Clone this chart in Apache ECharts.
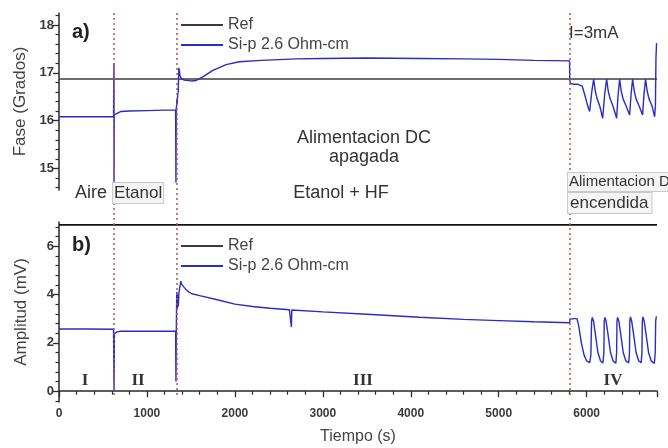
<!DOCTYPE html>
<html>
<head>
<meta charset="utf-8">
<script src="https://cdn.jsdelivr.net/npm/echarts@6/dist/echarts.min.js"></script>
<style>
  html, body { margin: 0; padding: 0; background: #fff; }
  #chart { width: 668px; height: 448px; }
</style>
</head>
<body>
<div id="chart"></div>
<script>
// Phase (degrees) of the reference and of the Si-p sample vs. time (s)
const phaseRef = [[0, 16.87], [6800, 16.87]];
const phaseSi = [
  [0, 16.08], [300, 16.08], [620, 16.08], [624, 16.1], [625, 17.2], [626, 14.7], [628, 16.12],
  [650, 16.15], [700, 16.19], [800, 16.2], [1000, 16.21], [1200, 16.22], [1326, 16.22],
  [1330, 14.7], [1333, 16.25], [1337, 16.3], [1341, 16.45], [1345, 16.35], [1350, 16.55],
  [1356, 16.6], [1362, 17.1], [1368, 17.05], [1375, 16.95], [1390, 16.88], [1420, 16.85],
  [1500, 16.83], [1560, 16.84], [1640, 16.92], [1750, 17.05], [1900, 17.17], [2050, 17.23],
  [2300, 17.26], [2700, 17.29], [3000, 17.3], [3500, 17.31], [4100, 17.3], [4600, 17.29],
  [5000, 17.28], [5400, 17.26], [5805, 17.25], [5808, 16.85], [5815, 16.78], [5850, 16.76],
  [5900, 16.76], [5950, 16.72], [5985, 16.5], [6010, 16.32], [6034, 16.19], [6058, 16.6],
  [6080, 16.87], [6098, 16.62], [6120, 16.45], [6150, 16.3], [6182, 16.05], [6205, 16.55],
  [6227, 16.87], [6245, 16.62], [6268, 16.45], [6300, 16.3], [6341, 16.05], [6356, 16.5],
  [6375, 16.87], [6393, 16.62], [6415, 16.45], [6450, 16.3], [6489, 16.12], [6505, 16.55],
  [6523, 16.87], [6541, 16.62], [6563, 16.45], [6598, 16.3], [6636, 16.12], [6652, 16.55],
  [6670, 16.87], [6688, 16.62], [6710, 16.45], [6745, 16.3], [6773, 16.08], [6782, 16.3],
  [6788, 17.3], [6795, 17.62]
];

// Amplitude (mV) of the reference and of the Si-p sample vs. time (s)
const ampRef = [[0, 6.88], [6800, 6.88]];
const ampSi = [
  [0, 2.57], [300, 2.57], [620, 2.56], [624, 2.5], [626, 0.05], [630, 2.38], [660, 2.45],
  [700, 2.48], [1000, 2.48], [1326, 2.48], [1330, 0.4], [1334, 2.6], [1339, 4.1], [1345, 3.4],
  [1351, 4.0], [1357, 3.5], [1364, 4.1], [1372, 4.25], [1385, 4.55], [1395, 4.42], [1415, 4.35],
  [1440, 4.22], [1470, 4.12], [1510, 4.03], [1600, 3.95], [1800, 3.78], [2000, 3.6],
  [2200, 3.5], [2400, 3.43], [2620, 3.37], [2640, 3.36], [2643, 2.65], [2647, 3.36],
  [3000, 3.28], [3500, 3.18], [4100, 3.06], [4600, 2.97], [5000, 2.92], [5400, 2.87],
  [5805, 2.83], [5812, 2.97], [5850, 3.0], [5890, 3.0], [5910, 2.7], [5940, 2.0], [5970, 1.5],
  [6000, 1.25], [6035, 1.18], [6048, 1.5], [6056, 2.9], [6064, 3.05], [6078, 2.9], [6098, 2.4],
  [6128, 1.6], [6158, 1.25], [6185, 1.17], [6196, 1.6], [6200, 2.9], [6207, 3.05], [6221, 2.9],
  [6241, 2.4], [6271, 1.6], [6301, 1.25], [6332, 1.15], [6341, 1.6], [6345, 2.9], [6352, 3.05],
  [6366, 2.9], [6386, 2.4], [6416, 1.6], [6446, 1.25], [6478, 1.17], [6487, 1.6], [6491, 2.9],
  [6498, 3.07], [6512, 2.9], [6532, 2.4], [6562, 1.6], [6592, 1.25], [6620, 1.18], [6629, 1.6],
  [6633, 2.9], [6640, 3.07], [6654, 2.9], [6674, 2.4], [6704, 1.6], [6734, 1.25], [6770, 1.15],
  [6780, 1.6], [6785, 2.9], [6793, 3.1]
];

// Times (s) where the medium / power condition changes
const eventTimes = [628, 1337, 5807];

// Axis ticks
const timeLabels = [0, 1000, 2000, 3000, 4000, 5000, 6000];
const phaseMajor = [15, 16, 17, 18];
const phaseMinor = [14.6, 14.8, 15.2, 15.4, 15.6, 15.8, 16.2, 16.4, 16.6, 16.8,
                    17.2, 17.4, 17.6, 17.8, 18.2];
const ampMajor = [0, 2, 4, 6];
const ampMinor = [-0.4, 0.4, 0.8, 1.2, 1.6, 2.4, 2.8, 3.2, 3.6, 4.4, 4.8, 5.2, 5.6, 6.4, 6.8];

const seriesNames = ['Ref', 'Si-p 2.6 Ohm-cm'];
const FONT = '"Liberation Sans", Arial, sans-serif';
const SERIF = '"Liberation Serif", "Times New Roman", serif';
const BLUE = '#2b2bc6';
const AXIS = '#2a2a2a';

const chart = echarts.init(document.getElementById('chart'), null, { renderer: 'canvas' });

function majorY(grid, min, max, ticks, name) {
  return {
    type: 'value', gridIndex: grid, min: min, max: max, position: 'left',
    axisLine: { show: true, lineStyle: { color: AXIS, width: 1.5 } },
    axisTick: { show: true, inside: false, length: 6, customValues: ticks, lineStyle: { color: AXIS, width: 1.3 } },
    axisLabel: { show: true, customValues: ticks, margin: 5, fontSize: 13, fontWeight: 'bold', color: '#3a3a3a', fontFamily: FONT },
    splitLine: { show: false },
    name: name, nameLocation: 'middle', nameGap: 29,
    nameTextStyle: { fontSize: 17, color: '#444', fontFamily: FONT }
  };
}
function minorY(grid, min, max, ticks) {
  return {
    type: 'value', gridIndex: grid, min: min, max: max, position: 'left',
    axisLine: { show: false },
    axisTick: { show: true, inside: false, length: 3.5, customValues: ticks, lineStyle: { color: AXIS, width: 1.2 } },
    axisLabel: { show: false },
    splitLine: { show: false }
  };
}
function lineSeries(name, xi, yi, data, color, width) {
  return {
    name: name, type: 'line', xAxisIndex: xi, yAxisIndex: yi, data: data,
    symbol: 'none', showSymbol: false, smooth: false,
    lineStyle: { color: color, width: width }, itemStyle: { color: color },
    silent: true, z: 3
  };
}
function textEl(x, y, text, opt) {
  return {
    type: 'text', x: x, y: y, z: 100, silent: true,
    style: Object.assign({
      text: text, fill: '#333', fontSize: 18, fontFamily: FONT,
      align: 'left', verticalAlign: 'middle'
    }, opt || {})
  };
}
const boxStyle = { backgroundColor: '#f4f4f4', borderColor: '#c9c9c9', borderWidth: 1, padding: [2, 1, 1, 1] };
const legendBase = {
  data: seriesNames, orient: 'vertical', left: 176, itemWidth: 42, itemHeight: 2, itemGap: 4,
  icon: 'rect', selectedMode: false,
  textStyle: { fontSize: 16, color: '#444', fontFamily: FONT, padding: [0, 0, 0, 0] }
};

chart.setOption({
  animation: false,
  backgroundColor: '#fff',
  grid: [
    { left: 59, right: 11, top: 13, height: 177 },
    { left: 59, right: 11, top: 222, height: 180 },
    { left: 59, right: 11, top: 10, height: 385 }
  ],
  legend: [
    Object.assign({ top: 12 }, legendBase),
    Object.assign({ top: 233 }, legendBase)
  ],
  xAxis: [
    { type: 'value', gridIndex: 0, min: 0, max: 6800, show: false },
    {
      type: 'value', gridIndex: 1, min: 0, max: 6800, interval: 1000,
      axisLine: { show: true, lineStyle: { color: AXIS, width: 1.5 } },
      axisTick: { show: true, inside: false, length: 6, lineStyle: { color: AXIS, width: 1.3 } },
      minorTick: { show: true, splitNumber: 5, length: 3.5, lineStyle: { color: AXIS, width: 1.2 } },
      axisLabel: { customValues: timeLabels, formatter: v => String(v), margin: 6, fontSize: 12,
                   fontWeight: 'bold', color: '#3a3a3a', fontFamily: FONT },
      splitLine: { show: false },
      name: 'Tiempo (s)', nameLocation: 'middle', nameGap: 27,
      nameTextStyle: { fontSize: 16, color: '#444', fontFamily: FONT }
    },
    { type: 'value', gridIndex: 2, min: 0, max: 6800, show: false }
  ],
  yAxis: [
    majorY(0, 14.55, 18.25, phaseMajor, 'Fase (Grados)'),
    minorY(0, 14.55, 18.25, phaseMinor),
    majorY(1, -0.45, 7, ampMajor, 'Amplitud (mV)'),
    minorY(1, -0.45, 7, ampMinor),
    { type: 'value', gridIndex: 2, min: 0, max: 1, show: false }
  ],
  series: [
    {
      name: 'events', type: 'line', xAxisIndex: 2, yAxisIndex: 4, data: [], silent: true, z: 1,
      markLine: {
        silent: true, symbol: ['none', 'none'], label: { show: false },
        lineStyle: { color: '#a85a55', width: 1.5, type: [2, 3] },
        data: eventTimes.map(t => ({ xAxis: t }))
      }
    },
    lineSeries('Ref', 0, 0, phaseRef, '#3c3c3c', 1.6),
    lineSeries('Si-p 2.6 Ohm-cm', 0, 0, phaseSi, BLUE, 1.4),
    lineSeries('Ref', 1, 2, ampRef, '#111', 1.6),
    lineSeries('Si-p 2.6 Ohm-cm', 1, 2, ampSi, BLUE, 1.4)
  ],
  graphic: [
    textEl(72, 32, 'a)', { fontSize: 20, fontWeight: 'bold', fill: '#222' }),
    textEl(72, 245, 'b)', { fontSize: 20, fontWeight: 'bold', fill: '#222' }),
    textEl(75, 193, 'Aire'),
    textEl(113, 193, 'Etanol', Object.assign({}, boxStyle, { fontSize: 17 })),
    textEl(341, 193, 'Etanol + HF', { align: 'center' }),
    textEl(364, 138, 'Alimentacion DC', { align: 'center' }),
    textEl(364, 157, 'apagada', { align: 'center' }),
    textEl(569, 33, 'I=3mA', { fontSize: 17 }),
    textEl(568, 182, 'Alimentacion DC', Object.assign({}, boxStyle, { fontSize: 15 })),
    textEl(568, 203, 'encendida', Object.assign({}, boxStyle, { fontSize: 17, padding: [2, 3, 1, 2] })),
    textEl(85, 381, 'I', { fontFamily: SERIF, fontWeight: 'bold', fontSize: 17, align: 'center' }),
    textEl(138, 381, 'II', { fontFamily: SERIF, fontWeight: 'bold', fontSize: 17, align: 'center' }),
    textEl(363, 381, 'III', { fontFamily: SERIF, fontWeight: 'bold', fontSize: 17, align: 'center' }),
    textEl(613, 381, 'IV', { fontFamily: SERIF, fontWeight: 'bold', fontSize: 17, align: 'center' })
  ]
});
</script>
</body>
</html>
